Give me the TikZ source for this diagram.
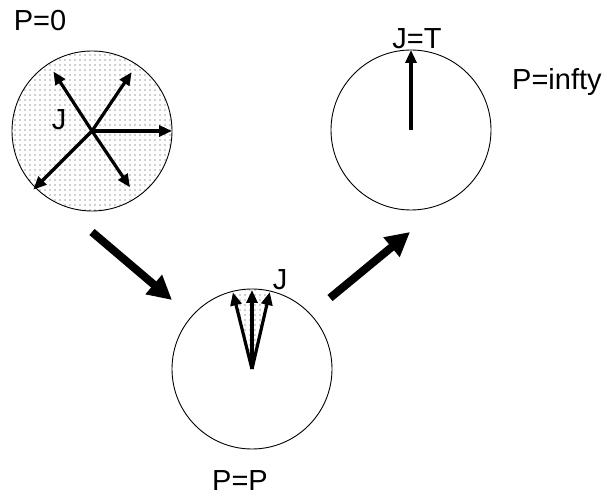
\documentclass[tikz,border=0pt]{standalone}
\usepackage{fontspec}
\setmainfont{Liberation Sans}
\usetikzlibrary{arrows.meta, positioning, patterns.meta}

\begin{document}
\begin{tikzpicture}[
    x=1pt, y=1pt,
    circ/.style={circle, draw, line width=0.9pt, minimum size=160pt, inner sep=0pt, outer sep=0pt},
    dotfill/.style={pattern={Dots[distance=5pt, radius=0.6pt]}, pattern color=black!80},
    jarr/.style={-{Triangle[length=13pt, width=11pt]}, line width=3.2pt},
    bigarr/.style={-{Triangle[length=24pt, width=24pt]}, line width=8pt},
    lbl/.style={font=\fontsize{29}{32}\selectfont, inner sep=0pt, anchor=base}
]
\useasboundingbox (0,0) rectangle (607,495);

% Circles
\node[circ, dotfill] (c0) at (92,364) {};
\node[circ] (c1) at (252,126) {};
\node[circ] (c2) at (411,365) {};

% P = 0
\foreach \a/\r [count=\i] in {123/71, 56/71, 0/80, 225/83, -56/68} {
  \coordinate (j\i) at ([shift={(\a:\r)}]c0.center);
  \draw[jarr] (c0.center) -- (j\i);
}
\node[lbl] (p0) at (40,464) {P=0};
\node[lbl] (jlbl0) at (59,365) {J};

% P = P
\path[dotfill] (c1.center) -- ([shift={(104:79)}]c1.center)
  arc[start angle=104, end angle=77, radius=79] -- cycle;
\foreach \a [count=\i] in {104, 90, 77} {
  \coordinate (k\i) at ([shift={(\a:79)}]c1.center);
  \draw[jarr] (c1.center) -- (k\i);
}
\node[lbl] (jlbl1) at (280,205) {J};
\node[lbl] (pp) at (240,5) {P=P};

% P = infty
\coordinate (t1) at (c2.north);
\draw[jarr] (c2.center) -- (t1);
\node[lbl] (jt) at (417,446) {J=T};
\node[lbl, anchor=base west] (pinf) at (512,405) {P=infty};

% Transitions
\coordinate (a0) at (92,263);
\coordinate (a1) at (172,195);
\coordinate (b0) at (330,197);
\coordinate (b1) at (410,263);
\draw[bigarr] (a0) -- (a1);
\draw[bigarr] (b0) -- (b1);

\end{tikzpicture}
\end{document}
